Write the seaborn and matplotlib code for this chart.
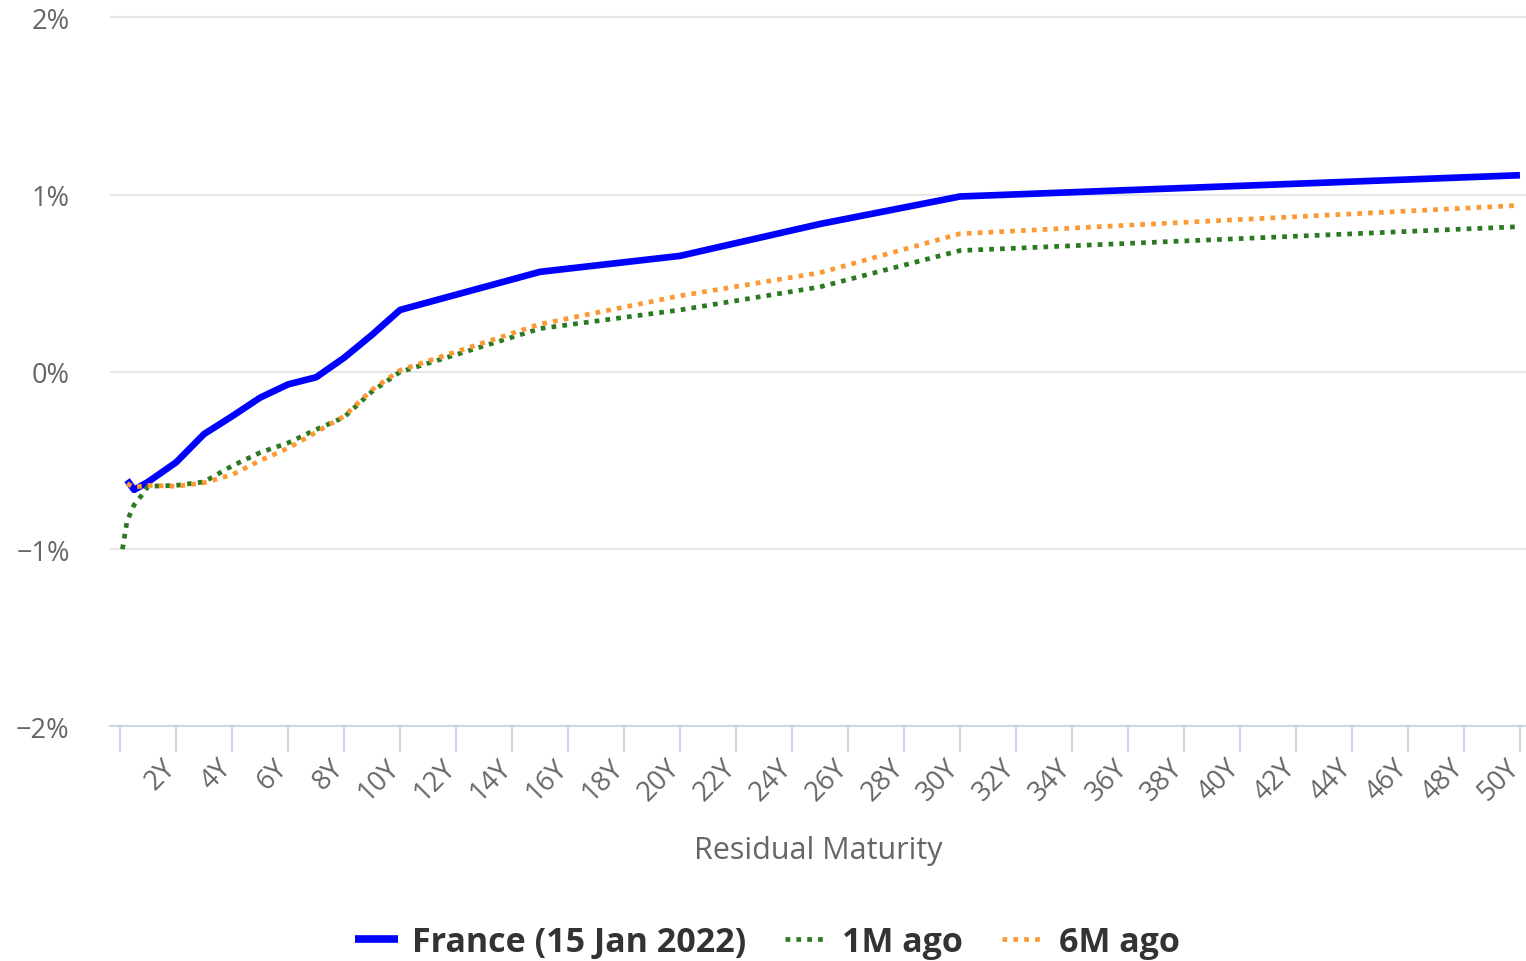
import matplotlib
matplotlib.use("Agg")
import matplotlib.pyplot as plt
import seaborn as sns
import pandas as pd

# Yield curves (residual maturity in years, yield in %)
france_maturity = [0.25, 0.5, 1, 2, 3, 4, 5, 6, 7, 8, 9, 10, 15, 20, 25, 30, 50]
france_yield = [-0.61, -0.665, -0.62, -0.51, -0.35, -0.25, -0.145, -0.07, -0.03,
                0.08, 0.21, 0.35, 0.565, 0.655, 0.835, 0.99, 1.11]

m1_maturity = [0.083, 0.25, 0.5, 0.75, 1, 2, 3, 4, 5, 6, 7, 8, 9, 10, 15, 20, 25, 30, 50]
m1_yield = [-1.00, -0.84, -0.75, -0.70, -0.645, -0.64, -0.62, -0.53, -0.455, -0.40,
            -0.325, -0.255, -0.11, 0.0, 0.245, 0.35, 0.48, 0.685, 0.82]

m6_maturity = [0.25, 0.5, 1, 2, 3, 4, 5, 6, 7, 8, 9, 10, 15, 20, 25, 30, 50]
m6_yield = [-0.63, -0.65, -0.64, -0.645, -0.625, -0.58, -0.50, -0.43, -0.34,
            -0.25, -0.10, 0.01, 0.27, 0.43, 0.56, 0.78, 0.94]

series_names = ["France (15 Jan 2022)", "1M ago", "6M ago"]
x_ticks = list(range(0, 51, 2))
x_tick_labels = [""] + [f"{t}Y" for t in x_ticks[1:]]
y_ticks = [-2, -1, 0, 1, 2]
y_tick_labels = ["\u22122%", "\u22121%", "0%", "1%", "2%"]

sns.set_theme(style="white")
plt.rcParams["font.family"] = ["Open Sans", "DejaVu Sans"]

fig = plt.figure(figsize=(15.26, 9.62), dpi=100)
ax = fig.add_axes([0.0721, 0.2438, 0.9276, 0.7462])

frames = {
    series_names[0]: pd.DataFrame({"maturity": france_maturity, "yield": france_yield}),
    series_names[1]: pd.DataFrame({"maturity": m1_maturity, "yield": m1_yield}),
    series_names[2]: pd.DataFrame({"maturity": m6_maturity, "yield": m6_yield}),
}
styles = {
    series_names[0]: dict(color="#0000ff", linewidth=4.8, linestyle="-"),
    series_names[1]: dict(color="#2b7a22", linewidth=3.4, linestyle=(0, (1, 1.3))),
    series_names[2]: dict(color="#fb9a35", linewidth=3.4, linestyle=(0, (1, 1.3))),
}
for name in series_names:
    sns.lineplot(data=frames[name], x="maturity", y="yield", ax=ax, label=name,
                 solid_capstyle="butt", zorder=3, **styles[name])

ax.set_xlim(-0.36, 50.2)
ax.set_ylim(-2, 2.05)

# horizontal grid
ax.set_yticks(y_ticks)
ax.set_yticklabels(y_tick_labels)
for v in y_ticks[1:]:
    ax.axhline(v, color="#e6e6e6", linewidth=1.5, zorder=1)

ax.set_xticks(x_ticks)
ax.set_xticklabels(x_tick_labels, rotation=45, ha="right", va="baseline",
                   rotation_mode="anchor")

for s in ["top", "right", "left"]:
    ax.spines[s].set_visible(False)
ax.spines["bottom"].set_color("#ccd6eb")
ax.spines["bottom"].set_linewidth(1.5)

ax.tick_params(axis="x", direction="out", length=19, width=1.5, color="#ccd6eb",
               labelsize=19.5, labelcolor="#666666", pad=11, bottom=True)
ax.tick_params(axis="y", length=0, labelsize=19.5, labelcolor="#666666", pad=29)

ax.set_xlabel("Residual Maturity", fontsize=22, color="#666666", labelpad=21)
ax.set_ylabel("")

ax.get_legend().remove()
handles, labels = ax.get_legend_handles_labels()
leg = fig.legend(handles, labels, loc="lower center", ncol=3,
                 bbox_to_anchor=(0.503, -0.03), frameon=False,
                 handlelength=1.25, handletextpad=0.42, columnspacing=1.15,
                 prop=dict(weight="bold", size=24.5))
for t in leg.get_texts():
    t.set_color("#333333")
leg.get_lines()[0].set_linewidth(5.5)

fig.savefig("out.png", dpi=100)
